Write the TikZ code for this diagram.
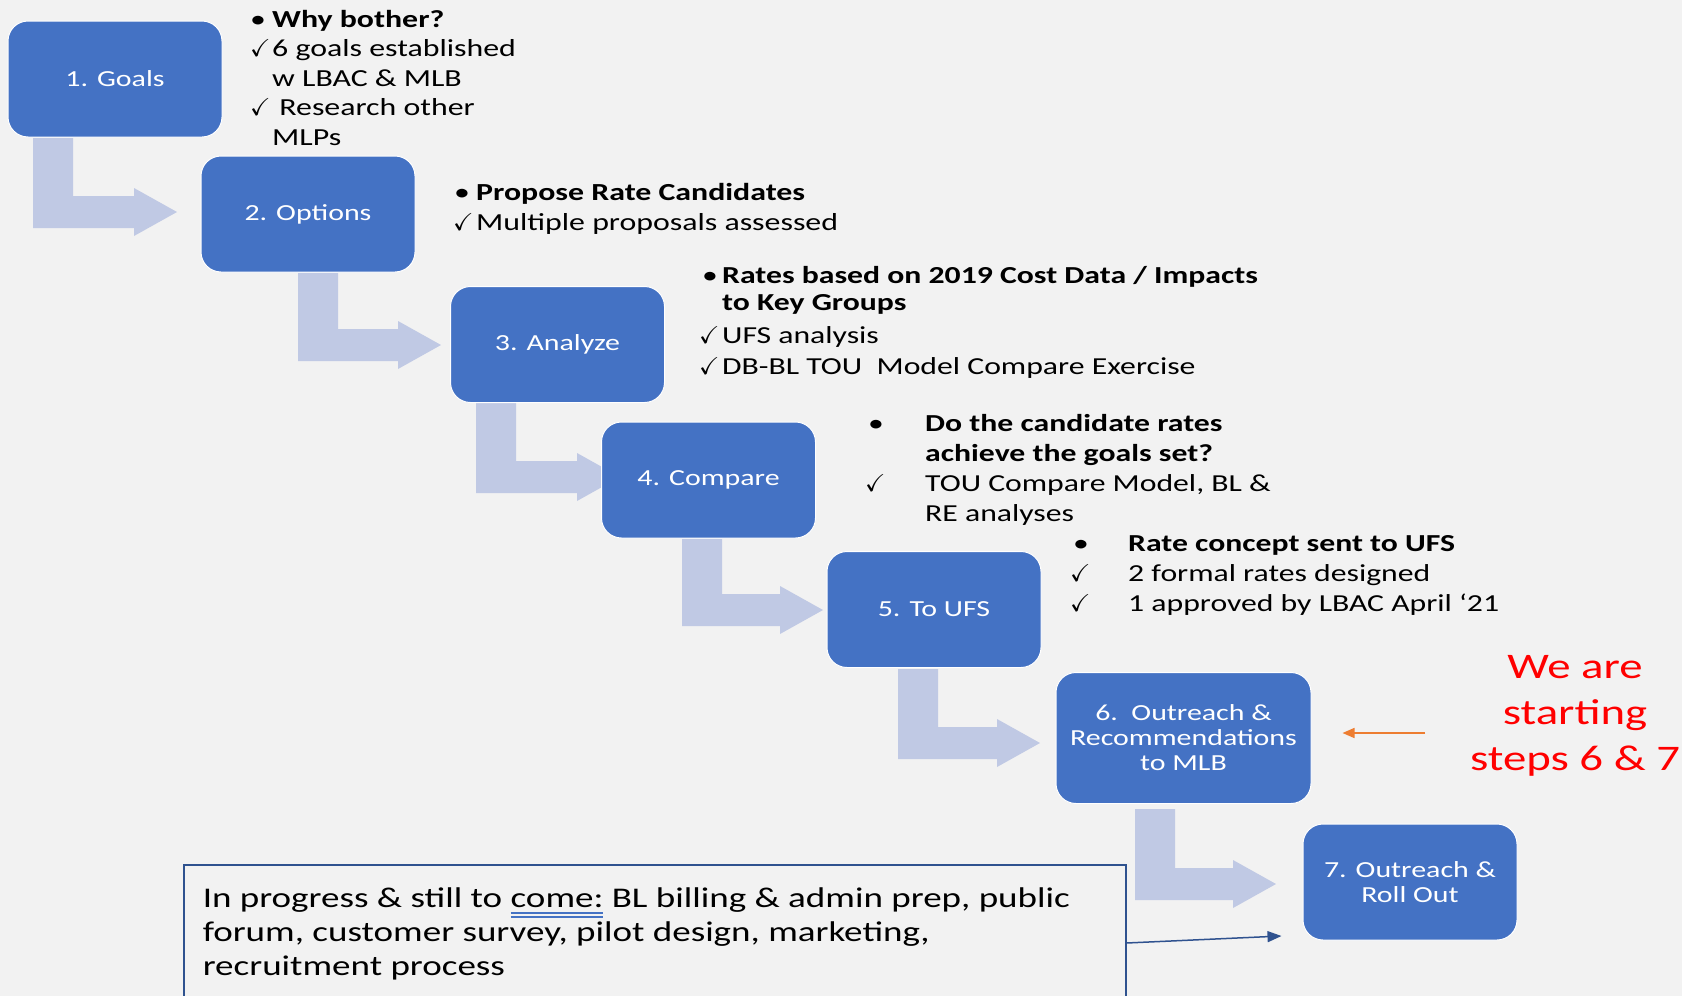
\documentclass[tikz,border=0pt]{standalone}
\usepackage{fontspec}
\setmainfont{Carlito}[FakeStretch=1.3]
\usepackage{amssymb}
\usetikzlibrary{arrows.meta}

\definecolor{bgcol}{HTML}{F2F2F2}
\definecolor{boxblue}{HTML}{4472C4}
\definecolor{bendcol}{HTML}{C0C9E4}
\definecolor{framecol}{HTML}{2F528F}
\definecolor{pointcol}{HTML}{ED7D31}
\definecolor{spellcol}{HTML}{4472C4}

\newcommand{\bul}{\textbullet}
\newcommand{\chk}{$\checkmark$}
\newsavebox{\spellbox}
\newcommand{\spelluu}[1]{\sbox{\spellbox}{#1}%
  \rlap{\textcolor{spellcol}{\rule[-6pt]{\wd\spellbox}{1.3pt}}}%
  \rlap{\textcolor{spellcol}{\rule[-10pt]{\wd\spellbox}{1.3pt}}}\usebox{\spellbox}}

\tikzset{
  stepbox/.style={rounded corners=20pt,fill=boxblue,draw=white,line width=1pt,text=white,
    align=center,inner sep=0pt,minimum width=214pt,minimum height=116pt,
    font=\fontsize{23}{25}\selectfont},
  remark/.style={anchor=north west,inner sep=0pt},
  bendarrow/.style={fill=bendcol},
  progbox/.style={draw=framecol,line width=1.5pt,inner xsep=19pt,inner ysep=19pt,
    anchor=north west,font=\fontsize{28.5}{34}\selectfont},
  redtext/.style={text=red,align=center,font=\fontsize{36}{46}\selectfont},
  linkarrow/.style={draw=framecol,line width=1.5pt,-{Triangle[length=14pt,width=11pt]}},
  pointarrow/.style={draw=pointcol,line width=1.5pt,-{Triangle[length=12pt,width=10pt]}}
}

\begin{document}
\begin{tikzpicture}[x=1pt,y=-1pt]
  \useasboundingbox (0,0) rectangle (1682,996);
  \clip (0,0) rectangle (1682,996);
  \fill[bgcol] (0,0) rectangle (1682,996);
  %% bent arrows (behind the steps)
  \foreach \sl/\st/\tx/\ty in {33/138/177/212,298/273/441/345,476/403/620/477,
      682/539/823/610,898/669/1040/743,1135/809/1276/884}
    \fill[bendarrow] (\sl,\st) -- (\sl+40,\st) -- (\sl+40,\ty-16) -- (\tx-43,\ty-16)
      -- (\tx-43,\ty-24) -- (\tx,\ty) -- (\tx-43,\ty+24) -- (\tx-43,\ty+16) -- (\sl,\ty+16) -- cycle;
  %% steps
  \node[stepbox] (r1) at (115,79) {1. Goals};
  \node[stepbox] (r2) at (308,214) {2. Options};
  \node[stepbox] (r3) at (557.5,344.5) {3. Analyze};
  \node[stepbox] (r4) at (708.5,480) {4. Compare};
  \node[stepbox] (r5) at (934,609.5) {5. To UFS};
  \node[stepbox,minimum width=255pt,minimum height=131pt] (r6) at (1183.5,738)
    {6.\ \ Outreach \&\\Recommendations\\to MLB};
  \node[stepbox] (r7) at (1410,882) {7. Outreach \&\\Roll Out};
  %% notes beside the steps
  \node[remark,font=\fontsize{24.5}{29.5}\selectfont] (n1) at (250,6.5) {%
    \begin{tabular}{@{}p{22pt}@{}l@{}}
      \bul & \textbf{Why bother?}\\
      \chk & 6 goals established\\
           & w LBAC \& MLB\\
      \chk & \ Research other\\
           & MLPs
    \end{tabular}};
  \node[remark,font=\fontsize{24.5}{29.5}\selectfont] (n2) at (453,180) {%
    \begin{tabular}{@{}p{23pt}@{}l@{}}
      \hspace{1pt}\bul & \textbf{Propose Rate Candidates}\\
      \chk & Multiple proposals assessed
    \end{tabular}};
  \node[remark,font=\fontsize{24.4}{27}\selectfont] (n3) at (699,264) {%
    \begin{tabular}{@{}p{23pt}@{}l@{}}
      \hspace{3pt}\bul & \textbf{Rates based on 2019 Cost Data / Impacts}\\
           & \textbf{to Key Groups}\\[6pt]
      \chk & UFS analysis\\[4pt]
      \chk & DB-BL TOU\ \ Model Compare Exercise
    \end{tabular}};
  \node[remark,font=\fontsize{24.4}{30}\selectfont] (n4) at (865,410) {%
    \begin{tabular}{@{}p{60pt}@{}l@{}}
      \hspace{3pt}\bul & \textbf{Do the candidate rates}\\
           & \textbf{achieve the goals set?}\\
      \chk & TOU Compare Model, BL \&\\
           & RE analyses
    \end{tabular}};
  \node[remark,font=\fontsize{24.4}{30}\selectfont] (n5) at (1070,530) {%
    \begin{tabular}{@{}p{58pt}@{}l@{}}
      \hspace{3pt}\bul & \textbf{Rate concept sent to UFS}\\
      \chk & 2 formal rates designed\\
      \chk & 1 approved by LBAC April ‘21
    \end{tabular}};
  %% where we are
  \node[redtext] (weare) at (1575,716) {We are\\starting\\steps 6 \& 7};
  \coordinate (wetail) at (1425,733);
  \draw[pointarrow,shorten >=31pt] (wetail) -- (wetail -| r6.east);
  %% still to come
  \node[progbox] (prog) at (183,864) {\parbox[t][150pt][t]{904pt}{\raggedright\strut
    In progress \& still to \spelluu{come:} BL billing \& admin prep, public\\
    forum, customer survey, pilot design, marketing,\\
    recruitment process}};
  \draw[linkarrow] ([yshift=-79pt]prog.north east) -- ([xshift=-21pt,yshift=-54pt]r7.west);
\end{tikzpicture}
\end{document}
